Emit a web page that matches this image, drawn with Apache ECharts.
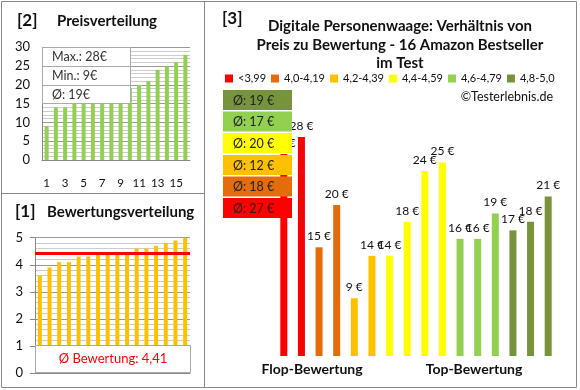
<!DOCTYPE html>
<html>
<head>
<meta charset="utf-8">
<script src="https://cdn.jsdelivr.net/npm/echarts@6/dist/echarts.min.js"></script>
<style>html,body{margin:0;padding:0;background:#fff}#c{width:580px;height:390px}</style>
</head>
<body>
<div id="c"></div>
<script>
// ---- data ----
const rankLabels = ['1','2','3','4','5','6','7','8','9','10','11','12','13','14','15','16'];
const pricesSorted = [9,14,14,15,16,16,17,18,18,19,20,21,24,25,26,28];
const ratingsSorted = [3.6,3.9,4.1,4.1,4.3,4.3,4.4,4.4,4.4,4.4,4.6,4.6,4.7,4.8,4.9,5.0];
const productPrices = [26,28,15,20,9,14,14,18,24,25,16,16,19,17,18,21];
const productGroup = [0,0,1,1,2,2,3,3,3,3,4,4,4,5,5,5];
const groupNames = ['<3,99','4,0-4,19','4,2-4,39','4,4-4,59','4,6-4,79','4,8-5,0'];
const groupColors = ['#FF0000','#E46C0A','#FFC000','#FFFF00','#92D050','#77933C'];

const FONT = 'Lato';
const TXT = '#111';

const priceMax = Math.max(...pricesSorted);
const priceMin = Math.min(...pricesSorted);
const priceAvg = Math.round(pricesSorted.reduce((a,b)=>a+b,0)/pricesSorted.length);
const ratingAvg = Math.round(ratingsSorted.reduce((a,b)=>a+b,0)/ratingsSorted.length*100)/100;
const groupAvg = groupNames.map((_,g)=>{
  const v = productPrices.filter((p,i)=>productGroup[i]===g);
  return Math.round(v.reduce((a,b)=>a+b,0)/v.length);
});

const chart = echarts.init(document.getElementById('c'), null, {renderer:'canvas'});

const groupSeries = groupNames.map((name,g)=>({
  name, type:'bar', xAxisIndex:2, yAxisIndex:2, stack:'p', barWidth:7,
  itemStyle:{color:groupColors[g]},
  label:{show:true, position:'top', distance:5, formatter:'{c} €', fontFamily:FONT, fontSize:12, color:TXT},
  data: productPrices.map((p,i)=> productGroup[i]===g ? p : '-'),
  z: 2
}));

// graphic elements
const G = [];
// frame
G.push({type:'rect', shape:{x:1.5,y:1.5,width:575,height:386}, style:{fill:null, stroke:'#888', lineWidth:1}, z:200});
G.push({type:'line', shape:{x1:204.5,y1:1.5,x2:204.5,y2:387.5}, style:{stroke:'#888', lineWidth:1}, z:200});
G.push({type:'line', shape:{x1:1.5,y1:193.5,x2:204.5,y2:193.5}, style:{stroke:'#888', lineWidth:1}, z:200});
function txt(x,y,text,size,weight,align,color){
  G.push({type:'text', x, y, z:210, style:{text, fontFamily:FONT, fontSize:size, fontWeight:weight||'normal', fill:color||TXT, textAlign:align||'left', textVerticalAlign:'middle'}});
}
txt(17,21,'[2]',17,'bold');
txt(57,21,'Preisverteilung',15,'bold');
txt(15,212,'[1]',17,'bold');
txt(47,212,'Bewertungsverteilung',15,'bold');
txt(222,19,'[3]',17,'bold');
txt(400,26,'Digitale Personenwaage: Verhältnis von',15,'bold','center');
txt(400,45,'Preis zu Bewertung - 16 Amazon Bestseller',15,'bold','center');
txt(400,63,'im Test',15,'bold','center');
txt(553,97,'©Testerlebnis.de',12.5,'normal','right');
txt(312,369,'Flop-Bewertung',14,'bold','center');
txt(474,369,'Top-Bewertung',14,'bold','center');
// price stats box
G.push({type:'rect', shape:{x:42.5,y:47.5,width:88,height:56}, style:{fill:'#fff', stroke:'#aaa', lineWidth:1}, z:150});
G.push({type:'line', shape:{x1:42.5,y1:66.5,x2:130.5,y2:66.5}, style:{stroke:'#aaa'}, z:151});
G.push({type:'line', shape:{x1:42.5,y1:85.5,x2:130.5,y2:85.5}, style:{stroke:'#aaa'}, z:151});
txt(52,57,'Max.: '+priceMax+'€',12.5,'normal','left','#333');
txt(52,76,'Min.: '+priceMin+'€',12.5,'normal','left','#333');
txt(52,95,'Ø: '+priceAvg+'€',12.5,'normal','left','#333');
// rating avg box
G.push({type:'rect', shape:{x:35.5,y:345.5,width:155,height:27}, style:{fill:'#fff', stroke:'#aaa', lineWidth:1}, z:150});
txt(113,359,'Ø Bewertung: '+ratingAvg.toFixed(2).replace('.',','),13,'normal','center','#FF0000');
// group average boxes (top: best group)
const boxTops = [90,111.5,133,155,176.5,198];
for(let k=0;k<6;k++){
  const g = 5-k;
  G.push({type:'rect', shape:{x:223,y:boxTops[k],width:69,height:20}, style:{fill:groupColors[g]}, z:160});
  txt(233,boxTops[k]+10.5,'Ø: '+groupAvg[g]+' €',12.5,'normal','left','#222');
}

const option = {
  animation:false,
  textStyle:{fontFamily:FONT},
  legend:{
    data: groupNames, left:225, top:73, width:400, padding:0, itemWidth:8, itemHeight:8, itemGap:5, icon:'rect',
    textStyle:{fontFamily:FONT, fontSize:11, color:TXT}, selectedMode:false
  },
  grid:[
    {left:42, top:47.3, width:148, height:112.7},
    {left:35, top:237.7, width:155, height:135.3},
    {left:275, top:120, width:282, height:236}
  ],
  xAxis:[
    {gridIndex:0, type:'category', data:rankLabels, axisTick:{show:false},
     axisLine:{lineStyle:{color:'#888'}},
     axisLabel:{interval:1, fontFamily:FONT, fontSize:11.5, color:TXT, margin:17}},
    {gridIndex:1, type:'category', data:rankLabels, axisTick:{show:false},
     axisLine:{lineStyle:{color:'#888'}}, axisLabel:{show:false}},
    {gridIndex:2, type:'category', data:rankLabels, show:false}
  ],
  yAxis:[
    {gridIndex:0, type:'value', min:0, max:30, interval:5,
     axisLine:{show:true, lineStyle:{color:'#888'}}, axisTick:{show:false},
     axisLabel:{fontFamily:FONT, fontSize:13, color:TXT, margin:12},
     splitLine:{lineStyle:{color:'#999'}},
     minorTick:{show:false, splitNumber:5}, minorSplitLine:{show:true, lineStyle:{color:'#ccc'}}},
    {gridIndex:1, type:'value', min:0, max:5, interval:1,
     axisLine:{show:true, lineStyle:{color:'#888'}}, axisTick:{show:true, length:5, lineStyle:{color:'#888'}},
     axisLabel:{fontFamily:FONT, fontSize:13, color:TXT, margin:12},
     splitLine:{lineStyle:{color:'#999'}},
     minorTick:{show:false, splitNumber:5}, minorSplitLine:{show:true, lineStyle:{color:'#ccc'}}},
    {gridIndex:2, type:'value', min:2.2, max:30, show:false, splitLine:{show:false}}
  ],
  series:[
    {type:'bar', xAxisIndex:0, yAxisIndex:0, data:pricesSorted, barWidth:4, itemStyle:{color:'#92D050'}},
    {type:'bar', xAxisIndex:1, yAxisIndex:1, data:ratingsSorted, barWidth:4, itemStyle:{color:'#FFC000'},
     markLine:{silent:true, symbol:'none', label:{show:false},
       lineStyle:{color:'#FF0000', width:3, type:'solid'}, data:[{yAxis:ratingAvg}]}},
    ...groupSeries
  ],
  graphic: G
};
chart.setOption(option);
</script>
</body>
</html>
